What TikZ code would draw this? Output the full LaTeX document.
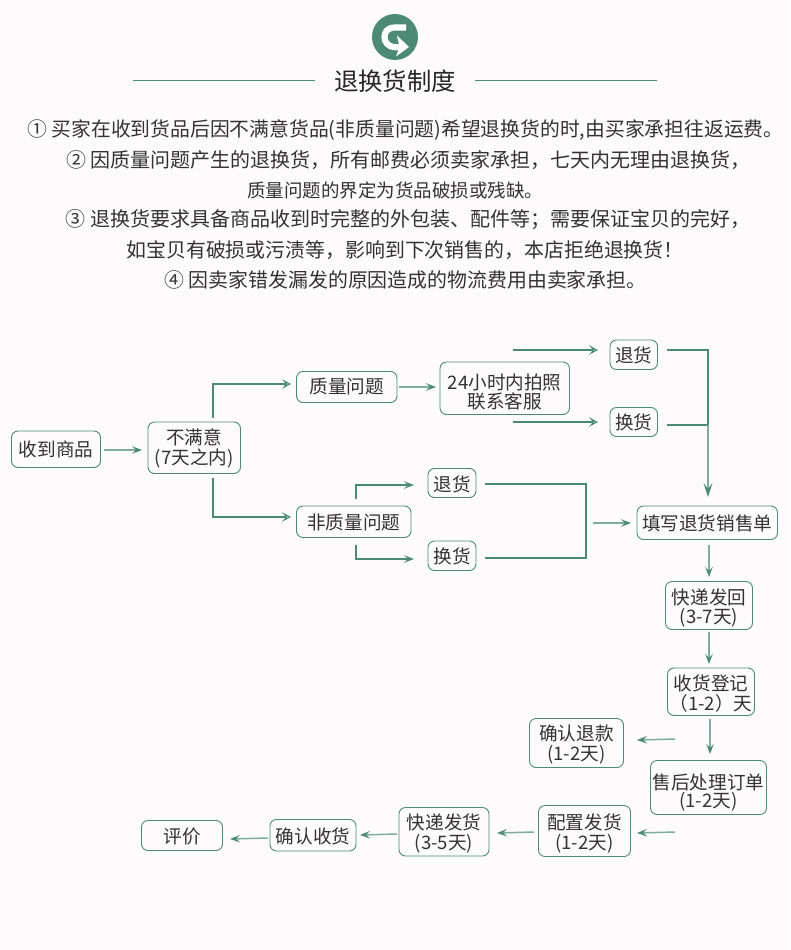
\documentclass[tikz,border=0pt]{standalone}
\usepackage{fontspec}
\setmainfont{Noto Sans CJK SC}
\usetikzlibrary{arrows.meta,calc}
\definecolor{pagebg}{HTML}{FDFBFC}
\definecolor{gr}{HTML}{4C8A75}
\definecolor{grl}{HTML}{7FAD9C}
\definecolor{ink}{HTML}{333333}
\tikzset{
  x=1pt,y=-1pt,
  box/.style={draw=gr,line width=0.9pt,rounded corners=6.5pt,inner sep=0pt,text=ink,font=\fontsize{18.6}{20}\selectfont,fill=pagebg},
  para/.style={inner sep=0pt,text=ink,font=\fontsize{19.9}{22}\selectfont},
  thinarr/.style={draw=grl,line width=1.5pt,-{Stealth[length=10pt,width=7.5pt,inset=4pt,color=gr,fill=gr]}},
  thickarr/.style={draw=gr,line width=1.7pt,-{Stealth[length=9pt,width=9.5pt,inset=4pt,open,line width=1pt,fill=pagebg]}},
  elbow/.style={draw=gr,line width=1.7pt},
  rule/.style={draw=gr,line width=0.8pt},
}
\newcommand{\bxlines}[3]{\raisebox{#1pt}[0pt][0pt]{\vbox{\baselineskip=#2pt\lineskiplimit=-100pt\let\\\cr\halign{\hfil##\hfil\cr #3\cr}}}}
% name, x1, y1, x2, y2, baseline of last line, leading, text
\newcommand{\bx}[8]{\pgfmathsetmacro{\bxoff}{(#3+#5)/2-#6}\node[box,minimum width=#4pt-#2pt,minimum height=#5pt-#3pt] (#1) at ({(#2+#4)/2},{(#3+#5)/2}) {\bxlines{\bxoff}{#7}{#8}};}
\begin{document}
\begin{tikzpicture}
\useasboundingbox[fill=pagebg] (0,0) rectangle (790,950);
% icon
\node[circle,fill=gr,minimum size=46pt,inner sep=0pt] (icon) at (395,37) {};
\draw[white,line width=6.2pt] (406,27.5) -- (395,27.5) .. controls (387.5,27.5) and (384.5,32) .. (384.5,37) .. controls (384.5,42.5) and (388.5,46) .. (393,47) -- (400,47.5);
\fill[white] (397,35.5) -- (409,47) -- (396,56.5) -- (399.5,47) -- cycle;
% title
\node[inner sep=0pt,text=black!85,font=\fontsize{24.4}{26}\selectfont] (title) at (395,81) {退换货制度};
\coordinate (tl1) at (133,80); \coordinate (tl2) at (315,80);
\coordinate (tr1) at (475,80); \coordinate (tr2) at (657,80);
\draw[rule] (tl1) -- (tl2);
\draw[rule] (tr1) -- (tr2);
% paragraph
\node[para,font=\fontsize{19.8}{22}\selectfont] (p1) at (405.5,130) {① 买家在收到货品后因不满意货品(非质量问题)希望退换货的时,由买家承担往返运费。};
\node[para,font=\fontsize{20}{22}\selectfont] (p2) at (408.5,160) {② 因质量问题产生的退换货，所有邮费必须卖家承担，七天内无理由退换货，};
\node[para,font=\fontsize{18.5}{22}\selectfont] (p3) at (395,190) {质量问题的界定为货品破损或残缺。};
\node[para,font=\fontsize{20}{22}\selectfont] (p4) at (408,220) {③ 退换货要求具备商品收到时完整的外包装、配件等；需要保证宝贝的完好，};
\node[para] (p5) at (405,250) {如宝贝有破损或污渍等，影响到下次销售的，本店拒绝退换货！};
\node[para] (p6) at (405.5,280) {④ 因卖家错发漏发的原因造成的物流费用由卖家承担。};
% boxes
\bx{recv}{11.5}{431}{100.5}{467.5}{456}{20}{收到商品}
\bx{dis}{148}{422}{240.5}{473.5}{464}{19.5}{不满意\\(7天之内)}
\bx{qual}{296.5}{371.5}{397}{402.5}{393}{20}{质量问题}
\bx{nonq}{296.5}{506}{411}{537.5}{529}{20}{非质量问题}
\bx{photo}{440}{362}{569.5}{414.5}{408}{19}{24小时内拍照\\联系客服}
\bx{ret1}{610}{340}{657.5}{369.5}{362}{20}{退货}
\bx{exc1}{610}{407.5}{657.5}{436.5}{429}{20}{换货}
\bx{ret2}{428}{468.5}{476}{497.5}{491}{20}{退货}
\bx{exc2}{428}{541}{476}{570.5}{563}{20}{换货}
\bx{form}{637}{506}{777.5}{539.5}{530}{20}{填写退货销售单}
\bx{back}{665.5}{581.5}{752.5}{629.5}{623}{18.5}{快递发回\\(3-7天)}
\bx{reg}{667.5}{668}{754.5}{715.5}{710}{20}{收货登记\\（1-2）天}
\bx{refund}{529.5}{718.5}{623.5}{767.5}{760}{19.5}{确认退款\\(1-2天)}
\bx{after}{650.5}{760.5}{766.5}{814.5}{807}{18}{售后处理订单\\(1-2天)}
\bx{conf}{538.5}{805.5}{630.5}{856.5}{849}{20}{配置发货\\(1-2天)}
\bx{ship}{399}{807.5}{489}{856}{849}{20}{快递发货\\(3-5天)}
\bx{got}{270}{819.5}{356}{851}{843}{20}{确认收货}
\bx{rate}{141.5}{820.5}{222.5}{850.5}{843}{20}{评价}
% free ends
\coordinate (recvS) at (104,450); \coordinate (disE) at (142,450);
\coordinate (upS) at (213,417.5); \coordinate (upC) at (213,384); \coordinate (upE) at (291,384);
\coordinate (dnS) at (213,478); \coordinate (dnC) at (213,517); \coordinate (dnE) at (291,517);
\coordinate (qS) at (399,387); \coordinate (qE) at (436,387);
\coordinate (phA) at (513,350); \coordinate (phAE) at (598,350);
\coordinate (phB) at (513,422); \coordinate (phBE) at (598,422);
\coordinate (r1S) at (667,350); \coordinate (r1C) at (708,350);
\coordinate (e1S) at (667,425); \coordinate (e1C) at (708,425);
\coordinate (formN) at (708,497);
\coordinate (nuS) at (356,498.5); \coordinate (nuC) at (356,485); \coordinate (nuE) at (414,485);
\coordinate (ndS) at (356,545); \coordinate (ndC) at (356,559); \coordinate (ndE) at (414,559);
\coordinate (r2S) at (485,484); \coordinate (r2C) at (586,484);
\coordinate (e2S) at (485,558); \coordinate (e2C) at (586,558);
\coordinate (mS) at (593,523); \coordinate (mE) at (631,523);
\coordinate (f1) at (709,545); \coordinate (f2) at (709,577);
\coordinate (b1) at (709,632); \coordinate (b2) at (709,664);
\coordinate (g1) at (710,719); \coordinate (g2) at (710,754);
\coordinate (rf1) at (675,739); \coordinate (rf2) at (637,740);
\coordinate (c1) at (675,832); \coordinate (c2) at (637,833);
\coordinate (s1) at (534,832); \coordinate (s2) at (497,833);
\coordinate (k1) at (397,834); \coordinate (k2) at (360,835);
\coordinate (h1) at (268,838); \coordinate (h2) at (230,839);
% connectors
\draw[thinarr] (recvS) -- (disE);
\draw[thickarr] (upS) -- (upC) -- (upE);
\draw[thickarr] (dnS) -- (dnC) -- (dnE);
\draw[thinarr] (qS) -- (qE);
\draw[thickarr] (phA) -- (phAE);
\draw[thickarr] (phB) -- (phBE);
\draw[elbow] (r1S) -- (r1C) -- (e1C);
\draw[elbow] (e1S) -- (e1C);
\draw[thinarr,-{Stealth[length=14pt,width=9pt,inset=6pt,color=gr,fill=gr]}] (e1C) -- (formN);
\draw[thinarr,draw=gr] (nuS) -- (nuC) -- (nuE);
\draw[thinarr,draw=gr] (ndS) -- (ndC) -- (ndE);
\draw[elbow] (r2S) -- (r2C) -- (e2C) -- (e2S);
\draw[thinarr] (mS) -- (mE);
\draw[thinarr] (f1) -- (f2);
\draw[thinarr] (b1) -- (b2);
\draw[thinarr] (g1) -- (g2);
\draw[thinarr] (rf1) -- (rf2);
\draw[thinarr] (c1) -- (c2);
\draw[thinarr] (s1) -- (s2);
\draw[thinarr] (k1) -- (k2);
\draw[thinarr] (h1) -- (h2);
\end{tikzpicture}
\end{document}
